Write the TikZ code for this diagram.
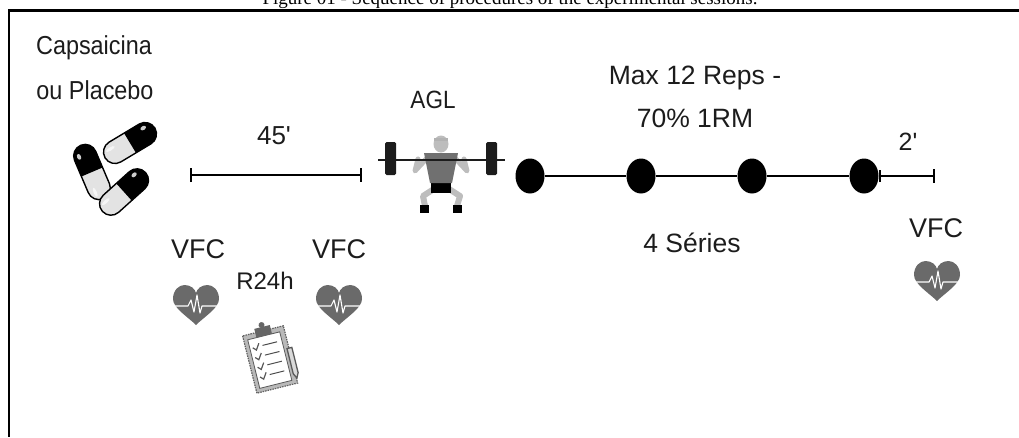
\documentclass[tikz,border=0pt]{standalone}
\usepackage{fontspec}
\newfontfamily\plainface{Liberation Sans}
\newfontfamily\narrowface[FakeStretch=0.9]{Liberation Sans}
\newfontfamily\captionface{Liberation Serif}
\usetikzlibrary{arrows.meta,shapes.geometric}
\definecolor{ink}{HTML}{1C1C1C}
\definecolor{heartgrey}{HTML}{6A6A6A}
\definecolor{bodygrey}{HTML}{707070}
\definecolor{skingrey}{HTML}{BDBDBD}

% capsule: centre x, centre y, angle (dark half towards +x)
\newcommand\pillshape[3]{%
  \begin{scope}[shift={(#1,#2)},rotate=#3]
    \fill[gray!22,rounded corners=11.5pt] (-29,-11.5) rectangle (29,11.5);
    \begin{scope}
      \clip (0,-12) rectangle (30,12);
      \fill[black,rounded corners=11.5pt] (-29,-11.5) rectangle (29,11.5);
    \end{scope}
    \fill[white,opacity=.8] (19,-6) ellipse (3 and 2);
    \fill[white,opacity=.7] (-20,-5) ellipse (5 and 1.6);
    \draw[black,line width=1.4,rounded corners=11.5pt] (-29,-11.5) rectangle (29,11.5);
  \end{scope}}

% heart with pulse trace
\newcommand\heartmark[2]{%
  \begin{scope}[shift={(#1,#2)}]
    \fill[heartgrey] (0,20) .. controls (-8,12) and (-23,3) .. (-23,-6)
      .. controls (-23,-15) and (-17,-20) .. (-11.5,-20)
      .. controls (-5,-20) and (-1,-16) .. (0,-12)
      .. controls (1,-16) and (5,-20) .. (11.5,-20)
      .. controls (17,-20) and (23,-15) .. (23,-6)
      .. controls (23,3) and (8,12) .. (0,20) -- cycle;
    \draw[white,line width=1.1,line join=round]
      (-24,1) -- (-8,1) -- (-5,-5) -- (-2,7) -- (1,-10) -- (4,8) -- (6,1) -- (24,1);
  \end{scope}}

\tikzset{
  lbl/.style={text=ink,inner sep=0pt,align=center},
  big/.style={lbl,font=\plainface\fontsize{26.5}{40}\selectfont},
  vfc/.style={lbl,font=\plainface\fontsize{27}{32}\selectfont},
  narrow/.style={lbl,font=\narrowface\fontsize{26}{40}\selectfont},
  mid/.style={lbl,font=\plainface\fontsize{24}{28}\selectfont},
  timelabel/.style={lbl,font=\plainface\fontsize{26}{30}\selectfont},
  timeline/.style={draw=black,line width=2.2},
  setdot/.style={ellipse,fill=black,minimum width=29pt,minimum height=35pt,inner sep=0pt},
}

\begin{document}
\begin{tikzpicture}[x=1pt,y=-1pt]
\useasboundingbox (0,0) rectangle (1019,437);
\clip (0,0) rectangle (1019,437);

% caption and frame
\node[lbl,anchor=base,text=black,font=\captionface\fontsize{19}{22}\selectfont] (caption) at (510,4)
  {Figure 01 - Sequence of procedures of the experimental sessions.};
\draw[black,line width=2.4] (8,10.5) -- (1019,10.5);
\draw[black,line width=2] (8.5,10) -- (8.5,437);

% labels
\node[narrow] (caps) at (94,48) {Capsaicina};
\node[narrow] (plac) at (95,90) {ou Placebo};
\node[timelabel] (t45) at (274,136) {45'};
\node[lbl,font=\narrowface\fontsize{25}{28}\selectfont] (agl) at (433,100) {AGL};
\node[big] (reps) at (695,78) {Max 12 Reps -};
\node[big] (rm) at (695,118) {70\% 1RM};
\node[lbl,font=\plainface\fontsize{25}{28}\selectfont] (t2) at (908,142) {2'};
\node[big] (series) at (692,243) {4 Séries};
\node[vfc] (vfc1) at (198,249) {VFC};
\node[vfc] (vfc2) at (339,249) {VFC};
\node[vfc] (vfc3) at (936,228) {VFC};
\node[mid] (r24) at (265,281) {R24h};

% pills
\pillshape{130}{143}{31}
\pillshape{92}{172}{113}
\pillshape{124}{192}{42}

% 45 minute interval
\coordinate (w0) at (190,175);
\coordinate (w1) at (362,175);
\draw[timeline,{Bar[width=14pt]}-{Bar[width=14pt]}] (w0) -- (w1);

% squat figure
\draw[skingrey,line width=6,line cap=round,line join=round] (437,187) -- (423,196) -- (425,206);
\draw[skingrey,line width=6,line cap=round,line join=round] (446,187) -- (460,196) -- (457,206);
\fill[black] (420,205) rectangle (429,213);
\fill[black] (453,205) rectangle (462,213);
\fill[black] (431,181) rectangle (451,193);
\draw[skingrey,line width=5,line cap=round,line join=round] (428,157) -- (415,171) -- (418,159);
\draw[skingrey,line width=5,line cap=round,line join=round] (454,157) -- (467,171) -- (464,159);
\fill[bodygrey] (424,153) -- (458,153) -- (452,183) -- (430,183) -- cycle;
\fill[skingrey] (441,144) ellipse (7.5 and 8.5);
\fill[gray!60] (434,138) rectangle (448,141);
\draw[ink,line width=2.6] (378,160) -- (505,160);
\fill[ink,rounded corners=1.5pt] (385,142) rectangle (396,175);
\fill[ink,rounded corners=1.5pt] (486,142) rectangle (497,175);

% sets
\node[setdot] (d1) at (530,176) {};
\node[setdot] (d2) at (641,176) {};
\node[setdot] (d3) at (752,176) {};
\node[setdot] (d4) at (864,176) {};
\draw[timeline] (d1) -- (d2) -- (d3) -- (d4);
\coordinate (rest) at (935,176);
\draw[timeline,{Bar[width=12pt]}-{Bar[width=14pt]}] (d4.east) -- (rest);

% heart-rate variability marks
\heartmark{196}{305}
\heartmark{339}{305}
\heartmark{937}{281}

% dietary recall clipboard
\begin{scope}[shift={(270,359)},rotate=14]
  \fill[gray!55] (-21,-29) rectangle (21,30);
  \draw[gray!75!black,line width=1.2,dash pattern=on 1.5pt off 1pt] (-21,-29) rectangle (21,30);
  \fill[white] (-17,-24) rectangle (16,26);
  \draw[gray!70!black,line width=.8] (-17,-24) rectangle (16,26);
  \fill[gray!80!black] (-8,-33) rectangle (8,-24);
  \fill[gray!80!black] (0,-35) circle (3);
  \foreach \r in {-15,-5,5,15}{
    \draw[gray!70!black,line width=1.2] (-14,\r) -- (-11,\r+3) -- (-7,\r-3);
    \draw[gray!60!black,line width=1] (-4,\r) -- (11,\r);
  }
  \draw[gray!70!black,line width=1.3,fill=gray!30] (19,-6) -- (24,-6) -- (24,20) -- (21.5,25) -- (19,20) -- cycle;
\end{scope}
\end{tikzpicture}
\end{document}
